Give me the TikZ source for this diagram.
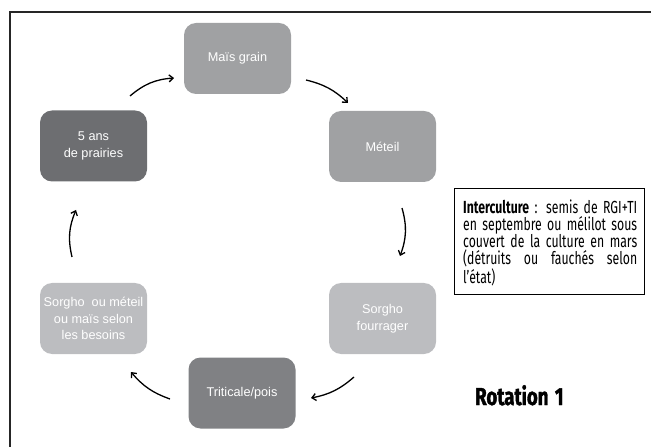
\documentclass[tikz,border=0pt]{standalone}
\usepackage{fontspec}
\setmainfont{Liberation Sans}
\newfontfamily\notefont[FakeStretch=0.70]{Fira Sans}
\newfontfamily\titlefont[FakeStretch=0.76, BoldFeatures={FakeBold=1.6}]{Fira Sans}
\usetikzlibrary{arrows.meta}
\definecolor{midgrey}{HTML}{A0A1A3}
\definecolor{darkgrey}{HTML}{6D6E71}
\definecolor{slategrey}{HTML}{808184}
\definecolor{lightgrey}{HTML}{BCBDC0}
\tikzset{
  crop/.style={rounded corners=12bp, minimum width=107bp, minimum height=71bp,
    inner sep=2bp, text=white, align=center,
    font=\fontsize{12.7bp}{16.5bp}\selectfont},
  cycle/.style={line width=1.3bp, black, -{Straight Barb[length=4bp,width=7bp]}},
}
\begin{document}
\begin{tikzpicture}[x=1bp, y=-1bp]
  \useasboundingbox (0,0) rectangle (651,447);
  % frame
  \draw[line width=1.1bp, black!85] (651,12) -- (10,12) -- (10,447);

  % crops of the rotation
  \node[crop, fill=midgrey]   (mais)     at (237.5,58.5) {\raisebox{4bp}{Maïs grain}};
  \node[crop, fill=midgrey]   (meteil)   at (382.5,146.5) {Méteil};
  \node[crop, fill=darkgrey]  (prairies) at (93.5,146)   {5 ans\\de prairies};
  \node[crop, fill=lightgrey] (sorghof)  at (382.5,318.5) {Sorgho\\fourrager};
  \node[crop, fill=lightgrey] (sorgho)   at (93.5,318.5)  {Sorgho~ ou méteil\\ou maïs selon\\les besoins};
  \node[crop, fill=slategrey] (triti)    at (242,393)     {Triticale/pois};

  % arrow end points between the boxes
  \coordinate (a1s) at (130,96);  \coordinate (a1e) at (174,78);
  \coordinate (a2s) at (306,80);  \coordinate (a2e) at (348,103);
  \coordinate (a3s) at (402,208); \coordinate (a3e) at (400,256);
  \coordinate (a4s) at (354,377); \coordinate (a4e) at (311,398);
  \coordinate (a5s) at (170,399); \coordinate (a5e) at (131,372);
  \coordinate (a6s) at (72,257);  \coordinate (a6e) at (76,210);

  \draw[cycle] (a1s) to[bend left=18] (a1e);
  \draw[cycle] (a2s) to[bend left=15] (a2e);
  \draw[cycle] (a3s) to[bend left=18] (a3e);
  \draw[cycle] (a4s) to[bend left=15] (a4e);
  \draw[cycle] (a5s) to[bend left=15] (a5e);
  \draw[cycle] (a6s) to[bend left=18] (a6e);

  % intercrop note
  \node[draw=black, line width=0.9bp, minimum width=190bp, minimum height=106bp,
        anchor=north west] (notebox) at (454,188) {};
  \node[anchor=north west, text width=174bp, align=justify, inner sep=0pt,
        font=\notefont\fontsize{17.5bp}{17bp}\selectfont]
        (note) at (463,200)
        {\textbf{Interculture} : semis de RGI+TI\linebreak
         en septembre ou mélilot sous\linebreak
         couvert de la culture en mars\linebreak
         (détruits ou fauchés selon\linebreak
         l’état)};

  % title
  \node[anchor=base west, inner sep=0pt,
        font=\titlefont\bfseries\fontsize{24.5bp}{28bp}\selectfont]
        (title) at (475,405) {Rotation\hspace{2bp} 1};
\end{tikzpicture}
\end{document}
